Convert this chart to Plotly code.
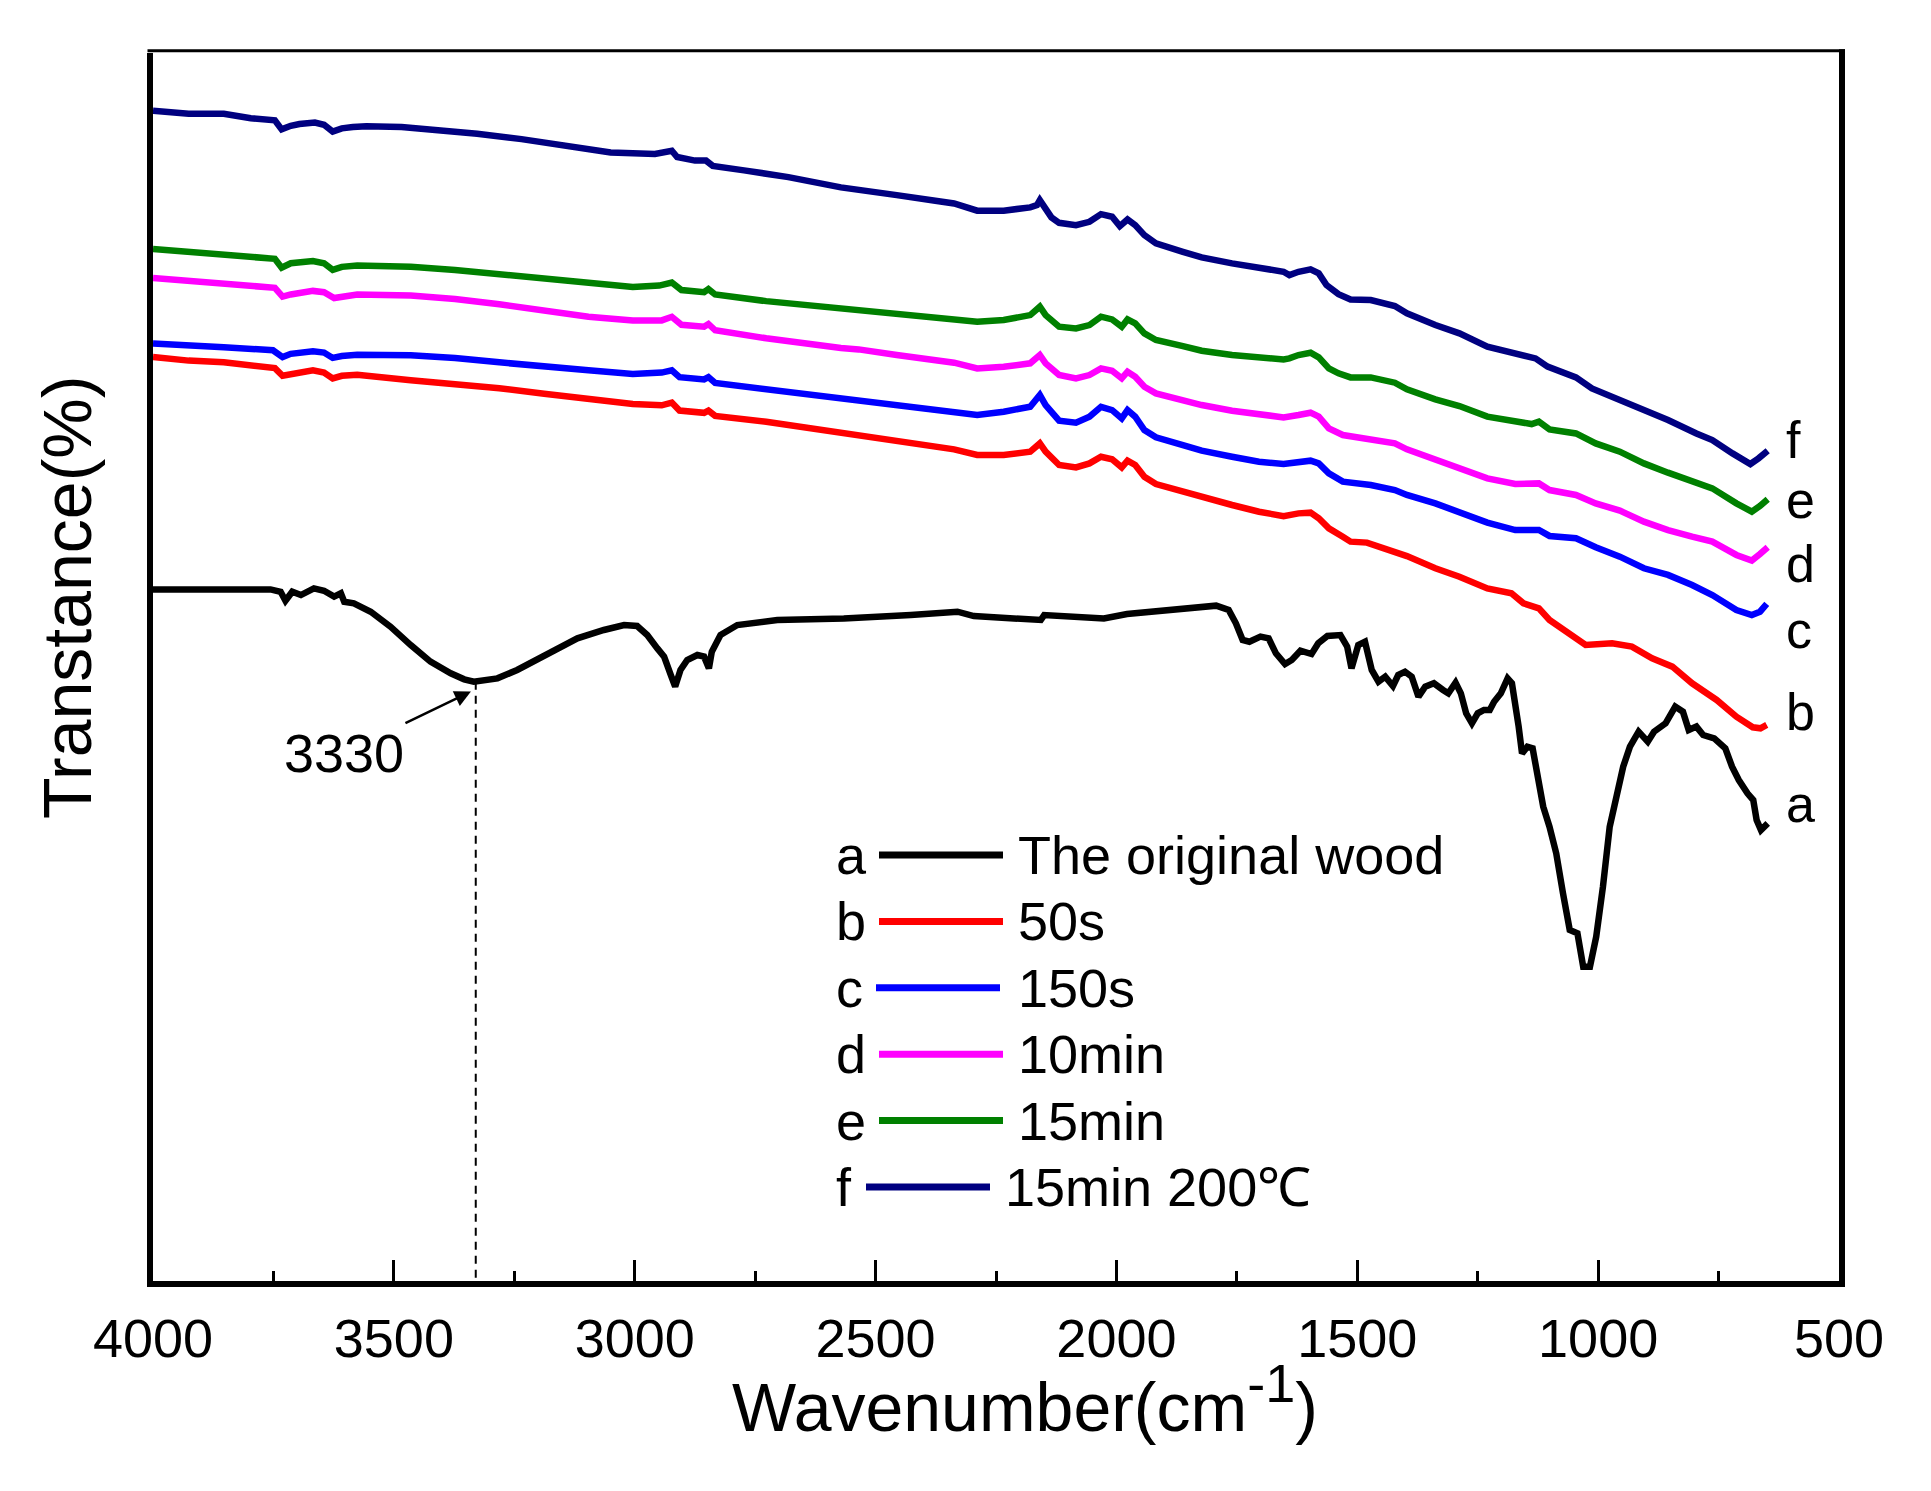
import plotly.graph_objects as go

# ---------------- data ----------------
curve_a = [(4000,56.21),(3880,56.21),(3756,56.21),(3735,56.02),(3725,55.29),(3711,56.02),(3693,55.75),
           (3666,56.29),(3645,56.10),(3624,55.62),(3610,55.89),(3603,55.21),(3583,55.08),(3548,54.40),
           (3507,53.19),(3465,51.70),(3424,50.35),(3382,49.41),(3354,48.92),(3334,48.73),(3285,49.00),
           (3244,49.68),(3188,50.89),(3119,52.24),(3064,52.92),(3022,53.32),(2995,53.24),(2974,52.51),
           (2953,51.43),(2939,50.76),(2925,49.27),(2916,48.33),(2905,49.68),(2891,50.49),(2870,50.89),
           (2856,50.76),(2846,49.81),(2840,51.16),(2822,52.51),(2787,53.32),(2704,53.73),(2566,53.86),
           (2427,54.13),(2358,54.27),(2330,54.40),(2296,54.05),(2220,53.86),(2157,53.73),(2150,54.13),
           (2081,54.05),(2026,53.86),(1978,54.21),(1915,54.40),(1839,54.67),(1793,54.89),(1767,54.54),
           (1752,53.46),(1738,52.11),(1724,51.97),(1701,52.38),(1684,52.24),(1669,51.03),(1650,50.16),
           (1636,50.49),(1618,51.24),(1595,50.97),(1581,51.84),(1562,52.43),(1535,52.51),(1521,51.57),
           (1512,49.81),(1498,51.70),(1484,51.97),(1470,49.68),(1456,48.73),(1442,49.13),(1426,48.38),
           (1415,49.27),(1401,49.54),(1387,49.13),(1373,47.52),(1359,48.33),(1341,48.60),(1322,48.06),
           (1311,47.79),(1296,48.65),(1285,47.79),(1274,46.17),(1262,45.36),(1250,46.17),(1237,46.44),
           (1225,46.44),(1216,47.11),(1202,47.79),(1188,49.00),(1179,48.60),(1173,47.25),(1165,45.09),
           (1158,42.92),(1147,43.46),(1136,43.33),(1124,41.03),(1114,38.60),(1101,36.98),(1087,34.82),
           (1073,31.58),(1059,28.61),(1043,28.34),(1031,25.63),(1017,25.63),(1004,28.07),(990,32.12),
           (976,36.98),(962,39.41),(948,41.84),(934,43.46),(916,44.68),(897,43.87),(884,44.68),
           (860,45.36),(840,46.71),(824,46.30),(812,44.81),(796,45.09),(782,44.41),(759,44.14),
           (736,43.33),(722,41.84),(708,40.76),(690,39.68),(678,39.14),(671,37.52),(662,36.71),(648,37.25)]

curve_b = [(4000,75.04),(3926,74.75),(3853,74.61),(3747,74.14),(3731,73.52),(3714,73.67),(3668,73.96),
           (3645,73.78),(3627,73.31),(3608,73.52),(3576,73.60),(3465,73.16),(3373,72.87),(3281,72.51),
           (3188,72.07),(3096,71.61),(3004,71.24),(2944,71.13),(2923,71.35),(2907,70.70),(2856,70.52),
           (2847,70.70),(2833,70.27),(2727,69.80),(2572,68.96),(2535,68.72),(2456,68.26),(2376,67.77),
           (2337,67.56),(2289,67.10),(2234,67.10),(2179,67.37),(2159,68.04),(2147,67.37),(2119,66.29),
           (2084,66.10),(2056,66.42),(2032,66.96),(2009,66.75),(1989,66.10),(1977,66.64),(1961,66.29),
           (1942,65.34),(1918,64.75),(1862,64.13),(1823,63.67),(1760,63.05),(1704,62.50),(1653,62.15),
           (1622,62.37),(1597,62.43),(1580,61.97),(1559,61.16),(1530,60.48),(1514,60.08),(1480,60.00),
           (1422,59.27),(1397,58.91),(1338,57.92),(1288,57.24),(1230,56.29),(1180,55.89),(1155,55.08),
           (1123,54.67),(1101,53.73),(1063,52.65),(1026,51.70),(971,51.84),(930,51.57),(888,50.62),
           (846,49.95),(805,48.60),(754,47.25),(713,45.89),(679,45.03),(663,44.95),(650,45.22)]

curve_c = [(4000,76.13),(3926,76.02),(3853,75.84),(3751,75.59),(3731,75.04),(3714,75.30),(3668,75.51),
           (3645,75.40),(3627,74.97),(3608,75.12),(3576,75.22),(3465,75.19),(3373,74.97),(3281,74.61),
           (3188,74.25),(3096,73.96),(3004,73.67),(2944,73.78),(2923,73.96),(2907,73.41),(2856,73.23),
           (2847,73.41),(2833,72.94),(2727,72.44),(2572,71.79),(2535,71.61),(2456,71.23),(2376,70.80),
           (2337,70.61),(2289,70.34),(2234,70.61),(2179,71.01),(2159,71.96),(2147,71.15),(2119,69.88),
           (2084,69.72),(2056,70.20),(2032,71.01),(2009,70.74),(1989,70.07),(1977,70.74),(1961,70.20),
           (1942,69.12),(1918,68.53),(1862,67.91),(1823,67.45),(1760,66.96),(1704,66.56),(1653,66.37),
           (1622,66.56),(1597,66.64),(1580,66.42),(1559,65.61),(1530,64.94),(1472,64.67),(1422,64.26),
           (1397,63.86),(1338,63.18),(1288,62.51),(1230,61.62),(1172,61.02),(1123,61.02),(1101,60.54),
           (1046,60.35),(1005,59.62),(955,58.86),(905,57.92),(855,57.38),(805,56.56),(763,55.75),
           (713,54.54),(681,54.13),(664,54.40),(650,55.03)]

curve_d = [(4000,81.45),(3926,81.19),(3853,81.01),(3747,80.65),(3731,79.93),(3714,80.11),(3668,80.40),
           (3645,80.29),(3624,79.82),(3608,79.93),(3576,80.11),(3465,80.03),(3373,79.75),(3281,79.31),
           (3188,78.84),(3096,78.30),(3004,78.01),(2944,78.01),(2923,78.30),(2903,77.65),(2856,77.50),
           (2847,77.72),(2833,77.21),(2727,76.56),(2572,75.77),(2535,75.66),(2456,75.20),(2376,74.79),
           (2337,74.58),(2289,74.12),(2234,74.25),(2179,74.53),(2159,75.20),(2147,74.53),(2119,73.58),
           (2084,73.31),(2056,73.58),(2032,74.12),(2009,73.93),(1989,73.31),(1977,73.85),(1961,73.44),
           (1942,72.63),(1918,72.09),(1862,71.55),(1823,71.15),(1760,70.69),(1704,70.34),(1653,70.15),
           (1622,70.34),(1597,70.53),(1580,70.21),(1559,69.26),(1530,68.72),(1472,68.37),(1422,68.04),
           (1397,67.56),(1338,66.69),(1288,66.02),(1230,65.21),(1172,64.75),(1123,64.80),(1101,64.26),
           (1046,63.86),(1005,63.18),(955,62.59),(905,61.70),(855,61.02),(805,60.48),(763,60.08),
           (713,59.00),(681,58.54),(664,59.08),(648,59.62)]

curve_e = [(4000,83.80),(3926,83.54),(3853,83.29),(3747,83.00),(3733,82.28),(3714,82.64),(3668,82.82),
           (3645,82.64),(3627,82.10),(3608,82.35),(3576,82.46),(3465,82.35),(3373,82.10),(3281,81.74),
           (3188,81.37),(3096,81.01),(3004,80.72),(2949,80.83),(2923,81.08),(2903,80.47),(2856,80.29),
           (2847,80.54),(2833,80.11),(2727,79.57),(2572,79.02),(2535,78.85),(2456,78.58),(2376,78.31),
           (2337,78.17),(2289,77.90),(2234,78.04),(2179,78.44),(2159,79.12),(2147,78.44),(2119,77.50),
           (2084,77.36),(2056,77.63),(2032,78.31),(2009,78.09),(1989,77.50),(1977,78.09),(1961,77.77),
           (1942,76.96),(1918,76.42),(1862,75.93),(1823,75.55),(1760,75.20),(1704,75.01),(1653,74.85),
           (1641,74.93),(1622,75.20),(1597,75.39),(1580,75.01),(1559,74.12),(1539,73.72),(1514,73.39),
           (1472,73.39),(1422,72.96),(1397,72.42),(1338,71.61),(1288,71.07),(1230,70.21),(1188,69.93),
           (1138,69.61),(1123,69.80),(1101,69.18),(1046,68.85),(1005,68.04),(955,67.37),(905,66.42),
           (855,65.67),(805,65.02),(763,64.40),(713,63.18),(681,62.51),(664,62.97),(648,63.51)]

curve_f = [(4000,95.01),(3926,94.76),(3853,94.76),(3797,94.40),(3747,94.22),(3733,93.49),(3714,93.78),
           (3696,93.93),(3664,94.04),(3645,93.86),(3627,93.31),(3608,93.57),(3585,93.68),(3557,93.75),
           (3484,93.68),(3419,93.49),(3327,93.13),(3235,92.70),(3142,92.12),(3050,91.61),(2958,91.50),
           (2935,91.68),(2923,91.76),(2912,91.25),(2875,90.96),(2852,90.96),(2838,90.53),(2773,90.17),
           (2681,89.62),(2572,88.79),(2535,88.62),(2456,88.16),(2376,87.71),(2337,87.49),(2289,86.90),
           (2234,86.90),(2179,87.17),(2165,87.35),(2159,87.76),(2151,87.22),(2135,86.36),(2119,85.92),
           (2084,85.73),(2056,86.00),(2032,86.62),(2009,86.41),(1993,85.65),(1977,86.19),(1961,85.73),
           (1942,84.92),(1918,84.25),(1862,83.57),(1823,83.11),(1760,82.63),(1704,82.22),(1653,81.95),
           (1641,81.68),(1622,81.95),(1597,82.14),(1580,81.82),(1564,80.87),(1539,80.14),(1514,79.71),
           (1472,79.66),(1422,79.17),(1397,78.58),(1338,77.63),(1288,76.96),(1230,75.88),(1172,75.34),
           (1130,74.93),(1105,74.26),(1046,73.39),(1013,72.50),(955,71.56),(905,70.88),(855,69.93),
           (796,68.85),(763,68.31),(721,67.23),(684,66.37),(667,66.83),(648,67.45)]

series = [curve_a, curve_b, curve_c, curve_d, curve_e, curve_f]
letters = ["a", "b", "c", "d", "e", "f"]
labels = ["The original wood", "50s", "150s", "10min", "15min", "15min 200\u2103"]
colors = ["#000000", "#FF0000", "#0000FF", "#FF00FF", "#008000", "#000080"]
x_ticks = [4000, 3500, 3000, 2500, 2000, 1500, 1000, 500]
peak_wn = 3330
peak_label = "3330"

# ---------------- layout constants (pixels) ----------------
W, H = 1931, 1491
L, R, T, B = 153, 92, 53, 210
PW, PH = W - L - R, H - T - B
FONT = "Arial, 'Liberation Sans', sans-serif"


def px(fx):
    return (fx - L) / PW


def py(fy):
    return (H - B - fy) / PH


fig = go.Figure()
for pts, col, lab in zip(series, colors, labels):
    fig.add_trace(go.Scatter(x=[p[0] for p in pts], y=[p[1] for p in pts], mode="lines",
                             line=dict(color=col, width=6.5), name=lab, showlegend=False,
                             hoverinfo="skip"))

annotations = []
shapes = []

# end-of-curve letters
end_label_y = [804, 712, 630, 564, 500, 440]
for let, yy in zip(letters, end_label_y):
    annotations.append(dict(xref="paper", yref="paper", x=px(1784), y=py(yy), text=let,
                            showarrow=False, xanchor="left", yanchor="middle",
                            font=dict(family=FONT, size=52, color="black")))

# legend block
row_y0, row_step = 855, 66.4
row_dx = [0, 0, -3, 0, 0, -13]
for i, (let, lab, col) in enumerate(zip(letters, labels, colors)):
    yy = row_y0 + i * row_step
    annotations.append(dict(xref="paper", yref="paper", x=px(834), y=py(yy), text=let,
                            showarrow=False, xanchor="left", yanchor="middle",
                            font=dict(family=FONT, size=54, color="black")))
    annotations.append(dict(xref="paper", yref="paper", x=px(1016 + (row_dx[i] if i == 5 else 0)),
                            y=py(yy), text=lab, showarrow=False, xanchor="left", yanchor="middle",
                            font=dict(family=FONT, size=54, color="black")))
    shapes.append(dict(type="line", xref="paper", yref="paper",
                       x0=px(879 + row_dx[i]), x1=px(1003 + row_dx[i]), y0=py(yy), y1=py(yy),
                       line=dict(color=col, width=7)))

# frame: top (thin) and right edges
shapes.append(dict(type="line", xref="paper", yref="paper", x0=px(147.5), x1=px(1845),
                   y0=py(50.7), y1=py(50.7), line=dict(color="black", width=3)))
shapes.append(dict(type="line", xref="paper", yref="paper", x0=px(1842), x1=px(1842),
                   y0=py(49.3), y1=py(1287), line=dict(color="black", width=6)))

# 3330 marker: dashed line + arrow
peak_t = min(p[1] for p in curve_a if abs(p[0] - peak_wn) < 60)
shapes.append(dict(type="line", xref="x", yref="y", x0=peak_wn, x1=peak_wn, y0=peak_t, y1=0.2,
                   line=dict(color="black", width=2, dash="8px,6px")))
annotations.append(dict(xref="x", yref="y", x=peak_wn + 10, y=peak_t - 0.8, text=peak_label,
                        showarrow=True, ax=-127, ay=61, arrowhead=2, arrowsize=1.3,
                        arrowwidth=2.5, arrowcolor="black",
                        font=dict(family=FONT, size=54, color="black")))

# axis titles
annotations.append(dict(xref="paper", yref="paper", x=px(1025), y=py(1399),
                        text="Wavenumber(cm<sup><span style='font-size:54px'>-1</span></sup>)",
                        showarrow=False, xanchor="center", yanchor="middle",
                        font=dict(family=FONT, size=68, color="black")))
annotations.append(dict(xref="paper", yref="paper", x=px(67), y=py(598),
                        text="Transtance(%)", showarrow=False, textangle=-90,
                        xanchor="center", yanchor="middle",
                        font=dict(family=FONT, size=68, color="black")))

fig.update_layout(
    width=W, height=H,
    margin=dict(l=L, r=R, t=T, b=B, pad=0),
    paper_bgcolor="white", plot_bgcolor="white",
    font=dict(family=FONT, color="black"),
    annotations=annotations, shapes=shapes,
    xaxis=dict(range=[4000, 500], tickvals=x_ticks, ticktext=[str(v) for v in x_ticks],
               ticks="inside", ticklen=21, tickwidth=3, tickcolor="black",
               minor=dict(tick0=500, dtick=250, ticks="inside", ticklen=10, tickwidth=3,
                          tickcolor="black", showgrid=False),
               showline=True, linewidth=6, linecolor="black", mirror=False,
               showgrid=False, zeroline=False, ticklabelstandoff=5,
               tickfont=dict(family=FONT, size=54, color="black")),
    yaxis=dict(range=[0.16, 99.68], showticklabels=False, ticks="",
               showline=True, linewidth=6, linecolor="black", mirror=False,
               showgrid=False, zeroline=False),
)

fig.write_html("out.html", config={"displayModeBar": False},
               post_script="document.body.style.margin='0px';document.body.style.padding='0px';")
